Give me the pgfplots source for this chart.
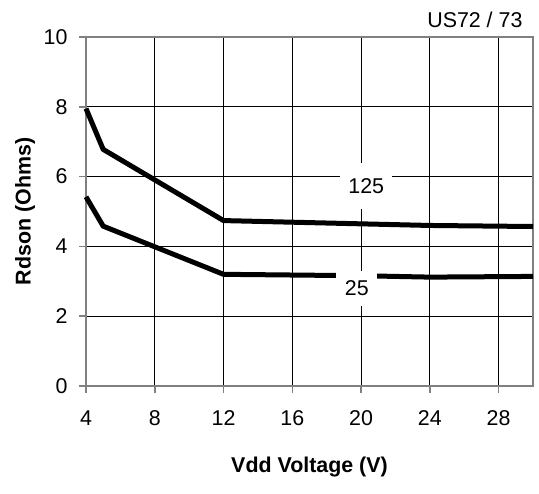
\documentclass[border=0pt]{standalone}
\usepackage{fontspec}
\setmainfont{Liberation Sans}
\usepackage{pgfplots}
\pgfplotsset{compat=1.18}

\begin{document}
\fontsize{10.7pt}{13pt}\selectfont
\begin{tikzpicture}
\path[use as bounding box] (-43pt,-53.5pt) rectangle (226.5pt,193pt);
\begin{axis}[
  at={(0,0)}, anchor=south west,
  scale only axis,
  width=223.5pt, height=174.5pt,
  xmin=4, xmax=30, ymin=0, ymax=10,
  xtick={4,8,...,28}, ytick={0,2,...,10},
  grid=major,
  grid style={black, line width=0.5pt},
  axis line style={gray, line width=1pt},
  tick style={gray, line width=0.8pt},
  tick align=outside,
  major tick length=3.5pt,
  xtick pos=bottom, ytick pos=left,
  /pgf/number format/assume math mode=true,
  xticklabel style={yshift=-5pt},
  yticklabel style={xshift=-2pt},
  xlabel={\textbf{Vdd Voltage (V)}},
  ylabel={\textbf{Rdson (Ohms)}},
  xlabel style={at={([yshift=-40.5pt]axis description cs:0.5,0)}, anchor=center},
  ylabel style={at={([xshift=-30.5pt]axis description cs:0,0.5)}, anchor=center},
  clip=false,
]
\addplot[black, line width=2.5pt, line join=round] coordinates {
  (4,7.95) (5,6.78) (12,4.74) (24,4.6) (30,4.57)};
\addplot[black, line width=2.5pt, line join=round] coordinates {
  (4,5.42) (5,4.58) (12,3.2) (20,3.16) (24,3.12) (30,3.14)};
\node[fill=white, inner xsep=4pt, inner ysep=7.5pt] at (axis cs:20.3,5.73) {125};
\node[fill=white, inner xsep=4.2pt, inner ysep=5pt] at (axis cs:19.75,2.8) {25};
\node[anchor=east] at ([xshift=-1.5pt,yshift=8.5pt]rel axis cs:1,1) {US72 / 73};
\end{axis}
\end{tikzpicture}
\end{document}
